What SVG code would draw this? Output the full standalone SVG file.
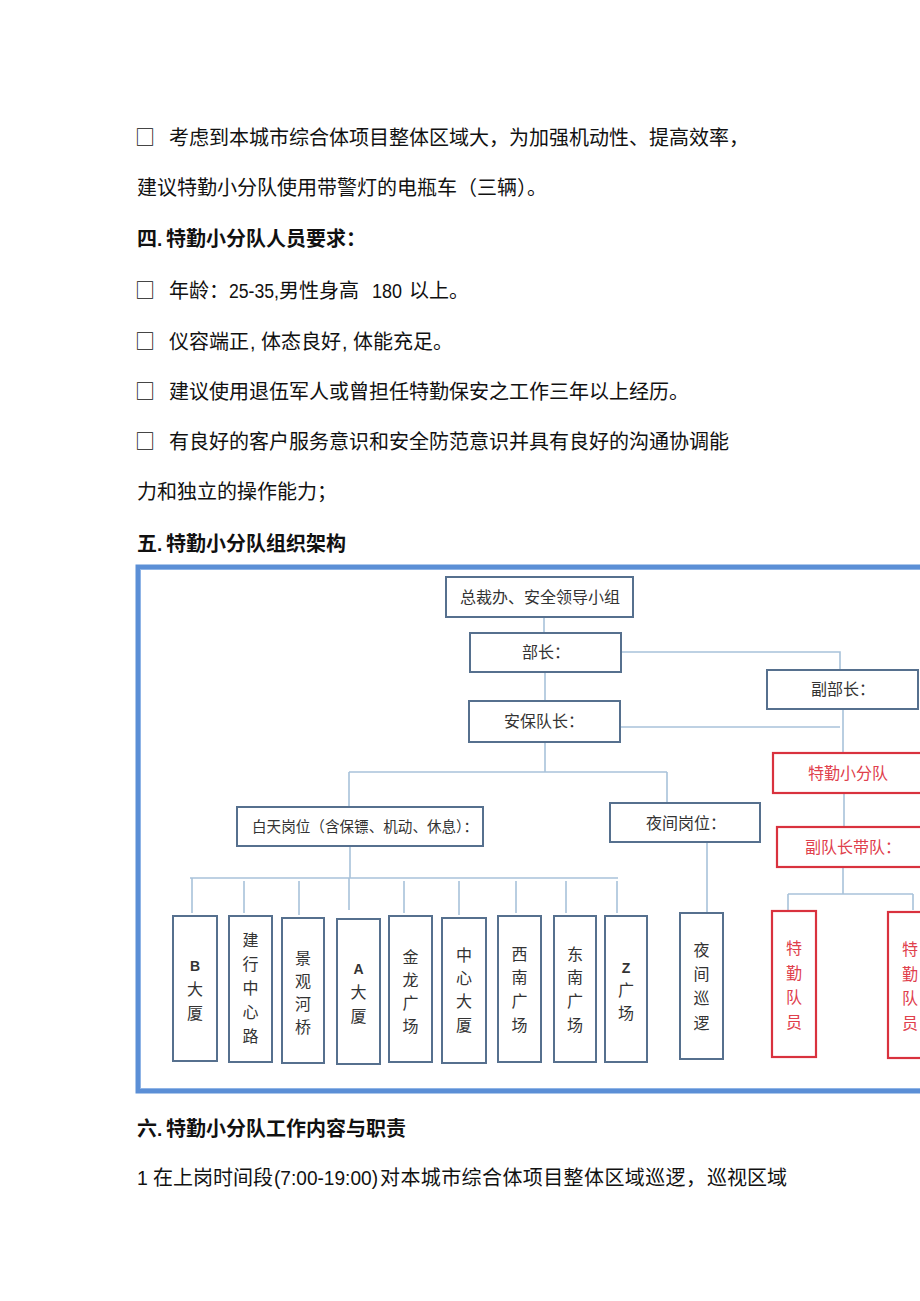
<svg xmlns="http://www.w3.org/2000/svg" width="920" height="1301" viewBox="0 0 920 1301">
<style>
.body{font-family:"Noto Sans CJK SC","Noto Sans",sans-serif;font-size:20px;fill:#111;}
.lat{font-family:"Liberation Sans",Arial,sans-serif;font-size:19.5px;fill:#111;}
.head{font-family:"Noto Sans CJK SC","Noto Sans",sans-serif;font-size:20px;font-weight:bold;fill:#111;}
.headlat{font-family:"Liberation Sans",Arial,sans-serif;font-size:19px;font-weight:bold;fill:#111;}
.box{fill:#fff;stroke:#56708e;stroke-width:2;}
.rbox{fill:#fff;stroke:#d9323e;stroke-width:2.2;}
.lbl{font-family:"Noto Sans CJK SC","Noto Sans",sans-serif;font-size:16px;fill:#333;}
.vl{font-family:"Noto Sans CJK SC","Noto Sans",sans-serif;font-size:16px;fill:#333;text-anchor:middle;}
.vlat{font-family:"Liberation Sans",Arial,sans-serif;font-size:14px;font-weight:bold;fill:#333;text-anchor:middle;}
.rl{font-family:"Noto Sans CJK SC","Noto Sans",sans-serif;font-size:16px;fill:#e0404c;}
.rvl{font-family:"Noto Sans CJK SC","Noto Sans",sans-serif;font-size:16px;fill:#e0404c;text-anchor:middle;}
.conn{stroke:#a8c2da;stroke-width:1.6;fill:none;}
</style>
<rect x="0" y="0" width="920" height="1301" fill="#fff"/>

<g id="text-body">
<text class="body" x="135" y="145">□</text>
<text class="body" x="169" y="145">考虑到本城市综合体项目整体区域大，为加强机动性、提高效率，</text>
<text class="body" x="137" y="195">建议特勤小分队使用带警灯的电瓶车（三辆）。</text>
<text class="head" x="137" y="246">四</text><text class="headlat" x="157" y="246">.</text><text class="head" x="166" y="246">特勤小分队人员要求：</text>
<text class="body" x="135" y="298">□</text>
<text class="body" x="169" y="298">年龄：</text><text class="lat" x="229" y="298" textLength="50" lengthAdjust="spacingAndGlyphs">25-35,</text><text class="body" x="279" y="298">男性身高</text><text class="lat" x="372" y="298" textLength="30" lengthAdjust="spacingAndGlyphs">180</text><text class="body" x="409" y="298">以上。</text>
<text class="body" x="135" y="349">□</text>
<text class="body" x="169" y="349">仪容端正</text><text class="lat" x="250" y="349">,</text><text class="body" x="261" y="349">体态良好</text><text class="lat" x="342" y="349">,</text><text class="body" x="353" y="349">体能充足。</text>
<text class="body" x="135" y="399">□</text>
<text class="body" x="169" y="399">建议使用退伍军人或曾担任特勤保安之工作三年以上经历。</text>
<text class="body" x="135" y="449">□</text>
<text class="body" x="169" y="449">有良好的客户服务意识和安全防范意识并具有良好的沟通协调能</text>
<text class="body" x="137" y="499">力和独立的操作能力；</text>
<text class="head" x="137" y="551">五</text><text class="headlat" x="157" y="551">.</text><text class="head" x="166" y="551">特勤小分队组织架构</text>
<text class="head" x="137" y="1136">六</text><text class="headlat" x="157" y="1136">.</text><text class="head" x="166" y="1136">特勤小分队工作内容与职责</text>
<text class="lat" x="137" y="1185">1</text><text class="body" x="153" y="1185">在上岗时间段</text><text class="lat" x="274" y="1185" textLength="104" lengthAdjust="spacingAndGlyphs">(7:00-19:00)</text><text class="body" x="380" y="1185" textLength="326">对本城市综合体项目整体区域巡逻，</text><text class="body" x="707" y="1185">巡视区域</text>
</g>

<g id="frame">
<rect x="138" y="567" width="800" height="524" fill="none" stroke="#5b8fd6" stroke-width="5"/>
<rect x="140.5" y="569.5" width="795" height="519" fill="none" stroke="#8fb4e6" stroke-width="1"/>
</g>

<g id="connectors">
<path class="conn" d="M544 617V633"/>
<path class="conn" d="M545 672V701"/>
<path class="conn" d="M621 652H840V670"/>
<path class="conn" d="M620 727H840"/>
<path class="conn" d="M545 742V772"/>
<path class="conn" d="M349 772H667"/>
<path class="conn" d="M349 772V807"/>
<path class="conn" d="M667 772V803"/>
<path class="conn" d="M843 709V753"/>
<path class="conn" d="M844 793V827"/>
<path class="conn" d="M350 846V878"/>
<path class="conn" d="M190 878H618"/>
<path class="conn" d="M192 878V913"/>
<path class="conn" d="M244 881V913"/>
<path class="conn" d="M299 881V915"/>
<path class="conn" d="M349 878V910"/>
<path class="conn" d="M404 881V913"/>
<path class="conn" d="M459 881V915"/>
<path class="conn" d="M516 881V913"/>
<path class="conn" d="M566 881V913"/>
<path class="conn" d="M617 881V913"/>
<path class="conn" d="M707 842V913"/>
<path class="conn" d="M843 867V894"/>
<path class="conn" d="M788 894H913"/>
<path class="conn" d="M788 894V910"/>
<path class="conn" d="M913 894V910"/>
</g>

<g id="node-top">
<rect class="box" x="446" y="577" width="187" height="40"/>
<text class="lbl" x="460" y="603">总裁办、安全领导小组</text>
</g>
<g id="node-buzhang">
<rect class="box" x="470" y="633" width="151" height="39"/>
<text class="lbl" x="522" y="658">部长：</text>
</g>
<g id="node-anbao">
<rect class="box" x="469" y="701" width="151" height="41"/>
<text class="lbl" x="504" y="727">安保队长：</text>
</g>
<g id="node-fubuzhang">
<rect class="box" x="767" y="670" width="151" height="39"/>
<text class="lbl" x="811" y="695">副部长：</text>
</g>
<g id="node-teqin">
<rect class="rbox" x="773" y="753" width="150" height="40"/>
<text class="rl" x="808" y="779">特勤小分队</text>
</g>
<g id="node-fuduizhang">
<rect class="rbox" x="777" y="827" width="150" height="40"/>
<text class="rl" x="805" y="853">副队长带队：</text>
</g>
<g id="node-baitian">
<rect class="box" x="237" y="807" width="246" height="39"/>
<text class="lbl" x="252" y="832" style="font-size:15px" textLength="226" lengthAdjust="spacingAndGlyphs">白天岗位（含保镖、机动、休息）：</text>
</g>
<g id="node-yejian">
<rect class="box" x="610" y="803" width="150" height="39"/>
<text class="lbl" x="646" y="829">夜间岗位：</text>
</g>

<g id="node-b">
<rect class="box" x="173" y="916" width="44" height="145"/>
<text class="vlat" x="195" y="971">B</text>
<text class="vl" x="195" y="995">大</text><text class="vl" x="195" y="1019">厦</text>
</g>
<g id="node-jianhang">
<rect class="box" x="229" y="916" width="43" height="146"/>
<text class="vl" x="250.5" y="946">建</text><text class="vl" x="250.5" y="970">行</text><text class="vl" x="250.5" y="994">中</text><text class="vl" x="250.5" y="1018">心</text><text class="vl" x="250.5" y="1042">路</text>
</g>
<g id="node-jingguan">
<rect class="box" x="282" y="918" width="42" height="145"/>
<text class="vl" x="303" y="964">景</text><text class="vl" x="303" y="987">观</text><text class="vl" x="303" y="1010">河</text><text class="vl" x="303" y="1033">桥</text>
</g>
<g id="node-a">
<rect class="box" x="337" y="919" width="43" height="145"/>
<text class="vlat" x="358.5" y="974">A</text>
<text class="vl" x="358.5" y="998">大</text><text class="vl" x="358.5" y="1022">厦</text>
</g>
<g id="node-jinlong">
<rect class="box" x="389" y="916" width="43" height="146"/>
<text class="vl" x="410.5" y="963">金</text><text class="vl" x="410.5" y="986">龙</text><text class="vl" x="410.5" y="1009">广</text><text class="vl" x="410.5" y="1032">场</text>
</g>
<g id="node-zhongxin">
<rect class="box" x="442" y="918" width="44" height="145"/>
<text class="vl" x="464" y="961">中</text><text class="vl" x="464" y="984">心</text><text class="vl" x="464" y="1007">大</text><text class="vl" x="464" y="1031">厦</text>
</g>
<g id="node-xinan">
<rect class="box" x="498" y="916" width="43" height="146"/>
<text class="vl" x="519.5" y="960">西</text><text class="vl" x="519.5" y="983">南</text><text class="vl" x="519.5" y="1007">广</text><text class="vl" x="519.5" y="1031">场</text>
</g>
<g id="node-dongnan">
<rect class="box" x="554" y="916" width="42" height="146"/>
<text class="vl" x="575" y="960">东</text><text class="vl" x="575" y="983">南</text><text class="vl" x="575" y="1007">广</text><text class="vl" x="575" y="1031">场</text>
</g>
<g id="node-z">
<rect class="box" x="605" y="916" width="42" height="146"/>
<text class="vlat" x="626" y="973">Z</text>
<text class="vl" x="626" y="996">广</text><text class="vl" x="626" y="1019">场</text>
</g>
<g id="node-yejianxunluo">
<rect class="box" x="680" y="913" width="43" height="146"/>
<text class="vl" x="701.5" y="956">夜</text><text class="vl" x="701.5" y="980">间</text><text class="vl" x="701.5" y="1004">巡</text><text class="vl" x="701.5" y="1029">逻</text>
</g>
<g id="node-duiyuan1">
<rect class="rbox" x="772" y="911" width="44" height="146"/>
<text class="rvl" x="794" y="954">特</text><text class="rvl" x="794" y="979">勤</text><text class="rvl" x="794" y="1003">队</text><text class="rvl" x="794" y="1028">员</text>
</g>
<g id="node-duiyuan2">
<rect class="rbox" x="888" y="912" width="44" height="146"/>
<text class="rvl" x="910" y="955">特</text><text class="rvl" x="910" y="980">勤</text><text class="rvl" x="910" y="1004">队</text><text class="rvl" x="910" y="1029">员</text>
</g>
</svg>
